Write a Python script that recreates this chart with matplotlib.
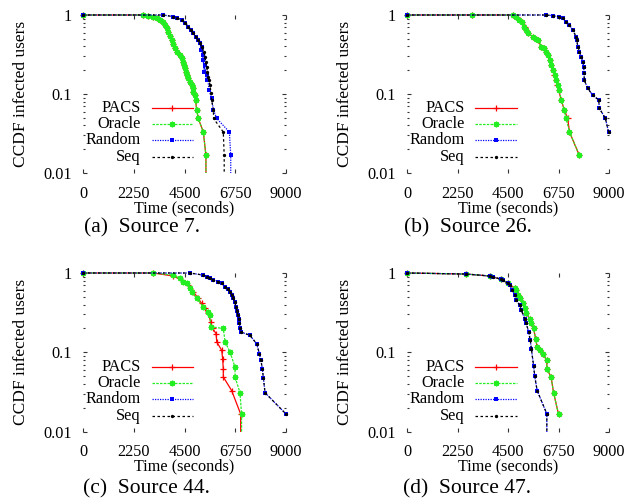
import matplotlib
matplotlib.use('Agg')
import matplotlib.pyplot as plt
from matplotlib.patches import Rectangle

plt.rcParams['font.family'] = ['Liberation Serif', 'DejaVu Serif']

series_labels = ['PACS', 'Oracle', 'Random', 'Seq']
x_ticks = [0, 2250, 4500, 6750, 9000]
x_tick_labels = ['0', '2250', '4500', '6750', '9000']
y_ticks = [0.01, 0.1, 1]
y_tick_labels = ['0.01', '0.1', '1']
captions = ['(a)  Source 7.', '(b)  Source 26.', '(c)  Source 44.', '(d)  Source 47.']
x_label = 'Time (seconds)'
y_label = 'CCDF infected users'

# ---- Panel (a): Source 7 ----
a_pacs_t = [0, 2670, 2896, 3120, 3266, 3410, 3532, 3640, 3709, 3780, 3857, 3930, 4005, 4080, 4182, 4300, 4374, 4450, 4493, 4520, 4566, 4600, 4670, 4740, 4818, 4860, 4892, 4960, 4990, 5040, 5110, 5335, 5450, 5450]
a_pacs_y = [1, 1, 0.981, 0.953, 0.908, 0.865, 0.808, 0.747, 0.678, 0.615, 0.542, 0.483, 0.430, 0.379, 0.343, 0.312, 0.283, 0.256, 0.233, 0.211, 0.192, 0.174, 0.158, 0.143, 0.130, 0.118, 0.107, 0.097, 0.084, 0.063, 0.049, 0.033, 0.0167, 0]
a_oracle_t = [0, 2670, 2896, 3120, 3266, 3410, 3532, 3640, 3709, 3780, 3857, 3930, 4005, 4080, 4182, 4300, 4374, 4450, 4493, 4520, 4566, 4600, 4670, 4740, 4818, 4860, 4892, 4960, 4990, 5040, 5110, 5335, 5450, 5450]
a_oracle_y = [1, 1, 0.981, 0.953, 0.908, 0.865, 0.808, 0.747, 0.678, 0.615, 0.542, 0.483, 0.430, 0.379, 0.343, 0.312, 0.283, 0.256, 0.233, 0.211, 0.192, 0.174, 0.158, 0.143, 0.130, 0.118, 0.107, 0.097, 0.084, 0.063, 0.049, 0.033, 0.0167, 0]
a_random_t = [0, 3560, 4000, 4153, 4370, 4522, 4670, 4773, 4890, 5010, 5110, 5187, 5231, 5260, 5305, 5330, 5365, 5394, 5480, 5512, 5590, 5700, 5780, 5930, 6490, 6550, 6550]
a_random_y = [1, 1, 0.953, 0.925, 0.865, 0.80, 0.711, 0.646, 0.586, 0.532, 0.483, 0.438, 0.36, 0.397, 0.312, 0.269, 0.192, 0.233, 0.150, 0.174, 0.112, 0.088, 0.063, 0.049, 0.033, 0.0167, 0]
a_seq_t = [0, 3560, 4000, 4153, 4370, 4522, 4670, 4773, 4890, 5010, 5110, 5187, 5260, 5365, 5410, 5438, 5480, 5512, 5560, 5586, 5630, 5680, 5700, 5780, 5790, 6220, 6260, 6260]
a_seq_y = [1, 1, 0.953, 0.925, 0.865, 0.80, 0.711, 0.646, 0.586, 0.532, 0.483, 0.438, 0.397, 0.343, 0.297, 0.256, 0.222, 0.192, 0.166, 0.150, 0.130, 0.102, 0.084, 0.063, 0.049, 0.033, 0.0167, 0]

# ---- Panel (b): Source 26 ----
b_pacs_t = [0, 2900, 4720, 4869, 5020, 5135, 5240, 5312, 5390, 5610, 5727, 5830, 5980, 6082, 6200, 6275, 6350, 6423, 6500, 6570, 6650, 6704, 6760, 6870, 7010, 7160, 7240, 7680]
b_pacs_y = [1, 1, 1, 0.953, 0.865, 0.808, 0.711, 0.646, 0.586, 0.532, 0.50, 0.483, 0.397, 0.379, 0.343, 0.312, 0.269, 0.233, 0.201, 0.174, 0.150, 0.130, 0.112, 0.084, 0.063, 0.049, 0.033, 0.0167]
b_oracle_t = [0, 2900, 4720, 4860, 5000, 5130, 5220, 5310, 5380, 5600, 5730, 5840, 5990, 6090, 6210, 6280, 6360, 6430, 6510, 6580, 6660, 6710, 6770, 6880, 7000, 7090, 7240, 7680]
b_oracle_y = [1, 1, 1, 0.953, 0.865, 0.808, 0.711, 0.646, 0.586, 0.532, 0.50, 0.483, 0.397, 0.379, 0.343, 0.312, 0.269, 0.233, 0.201, 0.174, 0.150, 0.130, 0.112, 0.084, 0.063, 0.049, 0.033, 0.0167]
b_random_t = [0, 6200, 6497, 6790, 6941, 7090, 7237, 7390, 7530, 7563, 7610, 7681, 7760, 7830, 7870, 7889, 7900, 8050, 8270, 8540, 8570, 8840, 8980]
b_random_y = [1, 1, 0.981, 0.953, 0.908, 0.824, 0.747, 0.646, 0.532, 0.483, 0.397, 0.343, 0.297, 0.256, 0.222, 0.183, 0.150, 0.118, 0.097, 0.084, 0.066, 0.049, 0.033]
b_seq_t = [0, 6200, 6497, 6790, 6941, 7090, 7237, 7390, 7530, 7563, 7610, 7681, 7760, 7830, 7870, 7889, 7900, 8050, 8270, 8540, 8570, 8840, 8980]
b_seq_y = [1, 1, 0.981, 0.953, 0.908, 0.824, 0.747, 0.646, 0.532, 0.483, 0.397, 0.343, 0.297, 0.256, 0.222, 0.183, 0.150, 0.118, 0.097, 0.084, 0.066, 0.049, 0.033]

# ---- Panel (c): Source 44 ----
c_pacs_t = [0, 3120, 4000, 4370, 4670, 4890, 5110, 5260, 5410, 5560, 5660, 5750, 5900, 5930, 6150, 6190, 6220, 6220, 6590, 6990, 6990]
c_pacs_y = [1, 1, 0.916, 0.815, 0.705, 0.58, 0.478, 0.413, 0.357, 0.309, 0.242, 0.2, 0.172, 0.135, 0.106, 0.083, 0.062, 0.049, 0.033, 0.0167, 0]
c_oracle_t = [0, 3120, 4000, 4300, 4450, 4600, 4740, 4820, 5040, 5340, 5560, 5630, 5660, 6220, 6300, 6520, 6740, 6740, 6960, 7030, 7030]
c_oracle_y = [1, 1, 0.94, 0.857, 0.776, 0.74, 0.64, 0.58, 0.478, 0.375, 0.324, 0.293, 0.21, 0.2, 0.135, 0.101, 0.065, 0.049, 0.031, 0.0167, 0]
c_random_t = [0, 4740, 5340, 5483, 5630, 5779, 6000, 6148, 6300, 6414, 6520, 6592, 6670, 6739, 6780, 6828, 6860, 6901, 6930, 6960, 6990, 7400, 7700, 7820, 7890, 7950, 8000, 8070, 9000]
c_random_y = [1, 1, 0.94, 0.898, 0.857, 0.815, 0.776, 0.74, 0.67, 0.627, 0.58, 0.527, 0.478, 0.425, 0.375, 0.33, 0.293, 0.262, 0.231, 0.203, 0.181, 0.164, 0.128, 0.096, 0.079, 0.062, 0.047, 0.031, 0.0167]
c_seq_t = [0, 4740, 5340, 5483, 5630, 5779, 6000, 6148, 6300, 6414, 6520, 6592, 6670, 6739, 6780, 6828, 6860, 6901, 6930, 6960, 6990, 7400, 7700, 7820, 7890, 7950, 8000, 8070, 9000]
c_seq_y = [1, 1, 0.94, 0.898, 0.857, 0.815, 0.776, 0.74, 0.67, 0.627, 0.58, 0.527, 0.478, 0.425, 0.375, 0.33, 0.293, 0.262, 0.231, 0.203, 0.181, 0.164, 0.128, 0.096, 0.079, 0.062, 0.047, 0.031, 0.0167]

# ---- Panel (d): Source 47 ----
d_pacs_t = [0, 2650, 3690, 4200, 4500, 4800, 4870, 4944, 5020, 5166, 5240, 5314, 5460, 5536, 5640, 5730, 5800, 5905, 6050, 6230, 6230, 6420, 6530, 6750]
d_pacs_y = [1, 0.97, 0.916, 0.83, 0.74, 0.64, 0.61, 0.527, 0.478, 0.413, 0.357, 0.309, 0.267, 0.231, 0.2, 0.149, 0.117, 0.106, 0.096, 0.079, 0.062, 0.049, 0.031, 0.0167]
d_oracle_t = [0, 2650, 3690, 4200, 4500, 4800, 4870, 4944, 5020, 5166, 5240, 5314, 5460, 5536, 5640, 5730, 5800, 5905, 6050, 6230, 6230, 6420, 6530, 6750]
d_oracle_y = [1, 0.97, 0.916, 0.83, 0.74, 0.64, 0.61, 0.527, 0.478, 0.413, 0.357, 0.309, 0.267, 0.231, 0.2, 0.149, 0.117, 0.106, 0.096, 0.079, 0.062, 0.049, 0.031, 0.0167]
d_random_t = [0, 2650, 3690, 3833, 4200, 4277, 4500, 4570, 4692, 4800, 4870, 5020, 5092, 5240, 5314, 5420, 5492, 5540, 5640, 5690, 5800, 6230, 6230]
d_random_y = [1, 0.97, 0.916, 0.898, 0.83, 0.815, 0.74, 0.705, 0.61, 0.53, 0.455, 0.394, 0.34, 0.267, 0.231, 0.181, 0.142, 0.111, 0.068, 0.05, 0.033, 0.0167, 0]
d_seq_t = [0, 2650, 3690, 3833, 4200, 4277, 4500, 4570, 4692, 4800, 4870, 5020, 5092, 5240, 5314, 5420, 5492, 5540, 5640, 5690, 5800, 6230, 6230]
d_seq_y = [1, 0.97, 0.916, 0.898, 0.83, 0.815, 0.74, 0.705, 0.61, 0.53, 0.455, 0.394, 0.34, 0.267, 0.231, 0.181, 0.142, 0.111, 0.068, 0.05, 0.033, 0.0167, 0]

panels = [
    [(a_pacs_t, a_pacs_y), (a_oracle_t, a_oracle_y), (a_random_t, a_random_y), (a_seq_t, a_seq_y)],
    [(b_pacs_t, b_pacs_y), (b_oracle_t, b_oracle_y), (b_random_t, b_random_y), (b_seq_t, b_seq_y)],
    [(c_pacs_t, c_pacs_y), (c_oracle_t, c_oracle_y), (c_random_t, c_random_y), (c_seq_t, c_seq_y)],
    [(d_pacs_t, d_pacs_y), (d_oracle_t, d_oracle_y), (d_random_t, d_random_y), (d_seq_t, d_seq_y)],
]

styles = [
    dict(color='#ff0000', ls='-', lw=0.9, marker='+', ms=4, mew=0.9),
    dict(color='#22ee22', ls=(0, (2, 1)), lw=0.9, marker=(8, 2, 0), ms=4, mew=1.0),
    dict(color='#0000ff', ls=(0, (1, 1)), lw=0.9, marker='s', ms=3.2, mew=0),
    dict(color='#000000', ls=(0, (2, 2)), lw=0.9, marker='o', ms=2.4, mew=0),
]

W, H = 630, 499
FS = 11.7
fig = plt.figure(figsize=(W / 100, H / 100), dpi=100)

axes_px = [(83, 15, 203, 158), (407, 15, 202, 158), (83, 273, 203, 158.7), (407, 273, 202, 158.7)]
caption_px = [(84, 228), (404, 228), (83, 489), (403, 489)]
legend_rows = [0.41, 0.309, 0.208, 0.10]

for k, (l, t, w, h) in enumerate(axes_px):
    ax = fig.add_axes([l / W, 1 - (t + h) / H, w / W, h / H])
    ax.set_yscale('log')
    ax.set_xlim(0, 9000)
    ax.set_ylim(0.01, 1)
    for s in ax.spines.values():
        s.set_visible(False)
    clip = Rectangle((-0.05, 0.0), 1.1, 1.08, transform=ax.transAxes)
    for (tt, yy), st in zip(panels[k], styles):
        ln, = ax.plot(tt, yy, **st)
        ln.set_clip_path(clip)
    ax.set_xticks(x_ticks)
    ax.set_xticklabels(x_tick_labels, fontsize=FS)
    ax.set_yticks(y_ticks)
    ax.set_yticklabels(y_tick_labels, fontsize=FS)
    ax.yaxis.set_minor_locator(matplotlib.ticker.LogLocator(base=10, subs=range(2, 10)))
    ax.yaxis.set_minor_formatter(matplotlib.ticker.NullFormatter())
    ax.tick_params(which='major', direction='in', length=3, width=0.8, color='#333333',
                   top=True, right=True, pad=8)
    ax.tick_params(which='minor', direction='in', length=1.5, width=0.8, color='#333333',
                   left=True, right=True)
    ax.tick_params(axis='x', pad=9)
    ax.set_xlabel(x_label, fontsize=FS, labelpad=-1)
    ax.set_ylabel(y_label, fontsize=12.5, labelpad=10)
    # key (gnuplot style: label right-justified, then sample)
    for i, (lab, st) in enumerate(zip(series_labels, styles)):
        yk = legend_rows[i]
        ax.text(0.284, yk, lab, transform=ax.transAxes, ha='right', va='center', fontsize=FS)
        ax.plot([0.338, 0.44, 0.543], [yk, yk, yk], transform=ax.transAxes,
                markevery=[1], clip_on=False, **st)
    cx, cy = caption_px[k]
    fig.text(cx / W, 1 - cy / H, captions[k], ha='left', va='center', fontsize=15.5)

fig.savefig('out.png', dpi=100)
